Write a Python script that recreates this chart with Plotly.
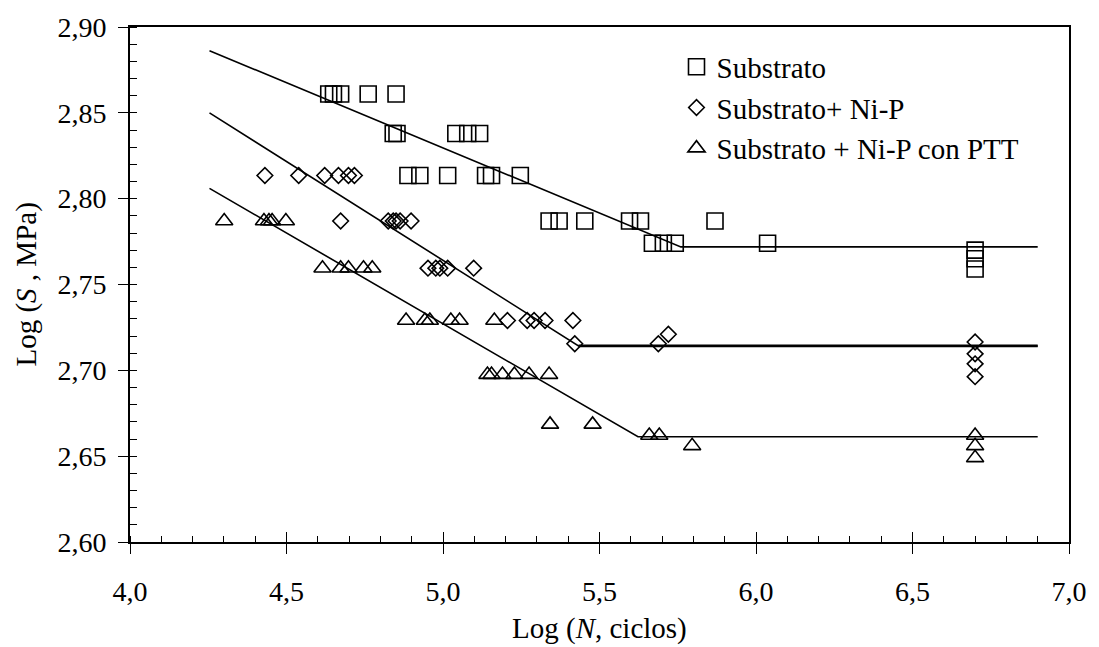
import plotly.graph_objects as go

# ---- data ----
sub_x = [4.635, 4.650, 4.673, 4.761, 4.850,
         4.841, 4.853, 5.041, 5.079, 5.117,
         4.888, 4.926, 5.015, 5.136, 5.155, 5.247,
         5.339, 5.371, 5.453, 5.596, 5.631, 5.869,
         5.669, 5.704, 5.742, 6.037,
         6.7, 6.7, 6.7]
sub_y = [2.861, 2.861, 2.861, 2.861, 2.861,
         2.838, 2.838, 2.838, 2.838, 2.838,
         2.8135, 2.8135, 2.8135, 2.8135, 2.8135, 2.8135,
         2.787, 2.787, 2.787, 2.787, 2.787, 2.787,
         2.774, 2.774, 2.774, 2.774,
         2.770, 2.765, 2.759]

nip_x = [4.431, 4.539, 4.622, 4.666, 4.698, 4.717,
         4.673, 4.825, 4.841, 4.850, 4.863, 4.898,
         4.952, 4.977, 4.990, 5.015, 5.098,
         5.206, 5.269, 5.291, 5.326, 5.415,
         5.421, 5.688, 5.720,
         6.7, 6.7, 6.7, 6.7]
nip_y = [2.8135, 2.8135, 2.8135, 2.8135, 2.8135, 2.8135,
         2.787, 2.787, 2.787, 2.787, 2.787, 2.787,
         2.7595, 2.7595, 2.7595, 2.7595, 2.7595,
         2.729, 2.729, 2.729, 2.729, 2.729,
         2.7155, 2.7155, 2.721,
         2.7165, 2.7096, 2.7038, 2.6963]

ptt_x = [4.301, 4.428, 4.444, 4.454, 4.498,
         4.615, 4.673, 4.698, 4.746, 4.774,
         4.882, 4.942, 4.958, 5.025, 5.053, 5.164,
         5.142, 5.155, 5.190, 5.228, 5.275, 5.339,
         5.342, 5.478,
         5.659, 5.691, 5.796,
         6.7, 6.7, 6.7]
ptt_y = [2.787, 2.787, 2.787, 2.787, 2.787,
         2.7595, 2.7595, 2.7595, 2.7595, 2.7595,
         2.729, 2.729, 2.729, 2.729, 2.729, 2.729,
         2.6975, 2.6975, 2.6975, 2.6975, 2.6975, 2.6975,
         2.6685, 2.6685,
         2.662, 2.662, 2.656,
         2.662, 2.656, 2.649]

# fitted bilinear lines (start, knee, end)
fit_sub_x = [4.254, 5.76, 6.9]
fit_sub_y = [2.8862, 2.7719, 2.7719]
fit_nip_x = [4.254, 5.433, 6.9]
fit_nip_y = [2.850, 2.7142, 2.7142]
fit_ptt_x = [4.254, 5.623, 6.9]
fit_ptt_y = [2.806, 2.6613, 2.6613]

series_names = ["Substrato", "Substrato+ Ni-P", "Substrato + Ni-P con PTT"]

FONT = "Liberation Serif"
fig = go.Figure()

# fit lines
for fx, fy in [(fit_sub_x, fit_sub_y), (fit_nip_x, fit_nip_y), (fit_ptt_x, fit_ptt_y)]:
    fig.add_trace(go.Scatter(x=fx, y=fy, mode="lines", line=dict(color="black", width=1.6),
                             showlegend=False, hoverinfo="skip"))
# the Ni-P plateau is drawn heavier in the reference
fig.add_trace(go.Scatter(x=fit_nip_x[1:], y=fit_nip_y[1:], mode="lines",
                         line=dict(color="black", width=2.8), showlegend=False, hoverinfo="skip"))

# markers
fig.add_trace(go.Scatter(x=sub_x, y=sub_y, mode="markers", name=series_names[0],
                         marker=dict(symbol="square-open", size=16, color="black",
                                     line=dict(width=1.6, color="black"))))
fig.add_trace(go.Scatter(x=nip_x, y=nip_y, mode="markers", name=series_names[1],
                         marker=dict(symbol="diamond-open", size=12, color="black",
                                     line=dict(width=1.6, color="black"))))
fig.add_trace(go.Scatter(x=ptt_x, y=ptt_y, mode="markers", name=series_names[2],
                         marker=dict(symbol="triangle-up-open", size=15, color="black",
                                     line=dict(width=1.6, color="black"))))

# empty trace to activate overlay axis (inside major ticks on x)
fig.add_trace(go.Scatter(x=[], y=[], xaxis="x2", showlegend=False, hoverinfo="skip"))

fig.update_layout(
    width=1099, height=647,
    margin=dict(l=130, r=24, t=22, b=105),
    paper_bgcolor="white", plot_bgcolor="white",
    separators=", ",
    font=dict(family=FONT, size=28, color="black"),
    xaxis=dict(range=[4, 7], tick0=4, dtick=0.5, tickformat=".1f",
               ticks="outside", ticklen=10, tickwidth=1.3, tickcolor="black",
               showline=True, linewidth=1.6, linecolor="black", mirror=True,
               showgrid=False, zeroline=False, ticklabelstandoff=14,
               tickfont=dict(family=FONT, size=28),
               minor=dict(tick0=4, dtick=0.1, ticks="inside", ticklen=6, tickwidth=1.2,
                          tickcolor="black", showgrid=False)),
    xaxis2=dict(overlaying="x", anchor="y", side="bottom", range=[4, 7], tick0=4, dtick=0.5,
                ticks="inside", ticklen=10, tickwidth=1.3, tickcolor="black",
                showticklabels=False, showline=False, showgrid=False, zeroline=False),
    yaxis=dict(range=[2.6, 2.9], tick0=2.6, dtick=0.05, tickformat=".2f",
               ticks="outside", ticklen=10, tickwidth=1.3, tickcolor="black",
               showline=True, linewidth=2, linecolor="black", mirror=True,
               showgrid=False, zeroline=False, ticklabelstandoff=6,
               tickfont=dict(family=FONT, size=28),
               minor=dict(tick0=2.6, dtick=0.01, ticks="inside", ticklen=7, tickwidth=1.2,
                          tickcolor="black", showgrid=False)),
    legend=dict(x=0.582, y=0.972, xanchor="left", yanchor="top",
                bgcolor="rgba(0,0,0,0)", borderwidth=0, tracegroupgap=0,
                font=dict(family=FONT, size=29, color="black")),
    annotations=[
        dict(text="Log (<i>N</i>, ciclos)", xref="paper", yref="paper", x=0.5, y=0,
             yshift=-86, xanchor="center", yanchor="middle", showarrow=False,
             font=dict(family=FONT, size=29, color="black")),
        dict(text="Log (<i>S</i> , MPa)", xref="paper", yref="paper", x=0, y=0.5,
             xshift=-104, xanchor="center", yanchor="middle", textangle=-90, showarrow=False,
             font=dict(family=FONT, size=29, color="black")),
    ],
)

fig.write_html("out.html")
